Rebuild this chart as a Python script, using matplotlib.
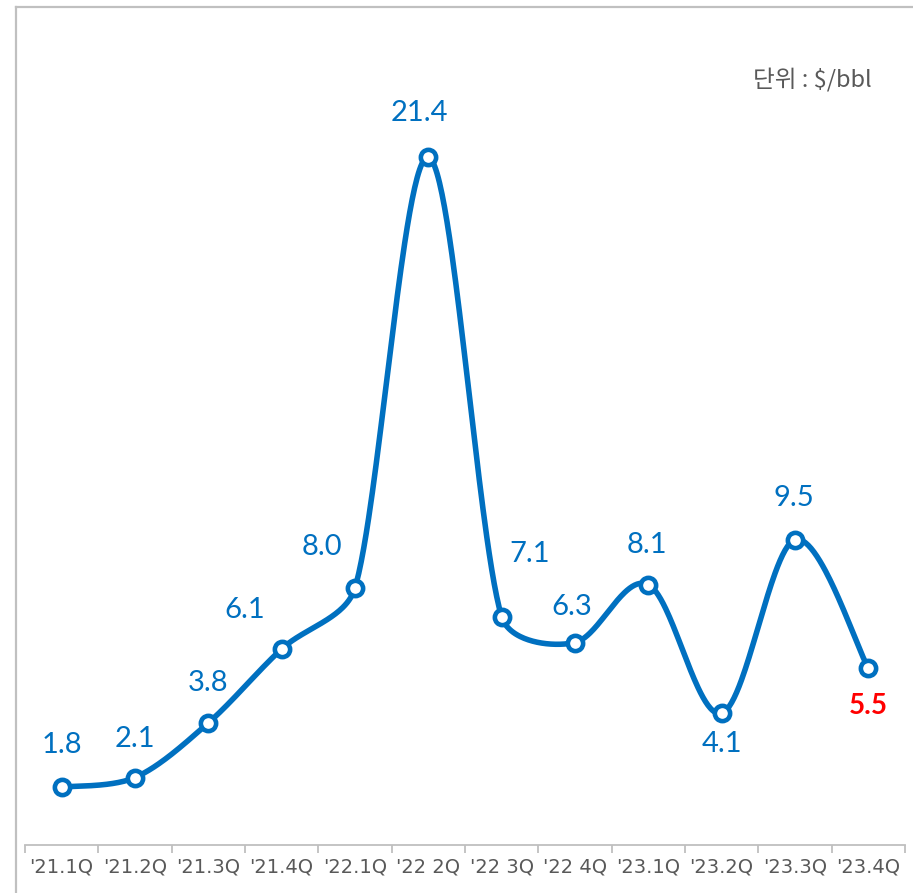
import numpy as np
import matplotlib
matplotlib.use('Agg')
import matplotlib.pyplot as plt
from matplotlib.lines import Line2D

# Quarterly values ($/bbl)
quarters = ["'21.1Q", "'21.2Q", "'21.3Q", "'21.4Q", "'22.1Q", "'22 2Q",
            "'22 3Q", "'22 4Q", "'23.1Q", "'23.2Q", "'23.3Q", "'23.4Q"]
values = [1.8, 2.1, 3.8, 6.1, 8.0, 21.4, 7.1, 6.3, 8.1, 4.1, 9.5, 5.5]
value_labels = ["1.8", "2.1", "3.8", "6.1", "8.0", "21.4",
                "7.1", "6.3", "8.1", "4.1", "9.5", "5.5"]

# label offsets from the point in pixels (dx, dy up)
label_offsets = [(0, 42), (0, 39), (0, 40), (-37, 39), (-33, 41), (-9, 44),
                 (28, 63), (-3, 36), (-1, 40), (0, -31), (-1, 42), (0, -38)]

blue = '#0070C0'
grey_txt = '#595959'
grey_line = '#BFBFBF'

fig = plt.figure(figsize=(9.13, 8.93), dpi=100)
ax = fig.add_axes([25 / 913, 48 / 893, 880 / 913, 803.5 / 893])
ax.set_xlim(-0.5, len(values) - 0.5)
ax.set_ylim(0, 25)

x = np.arange(len(values))
y = np.array(values)

# Excel-like smoothed line, built in display space
fig.canvas.draw()
P = ax.transData.transform(np.column_stack([x, y]))
n = len(P)
curve = []
for i in range(n - 1):
    p0 = P[i - 1] if i > 0 else P[i]
    p1 = P[i]
    p2 = P[i + 1]
    p3 = P[i + 2] if i + 2 < n else P[i + 1]
    seg = np.linalg.norm(p2 - p1)
    t1 = (p2 - p0) / 6
    t2 = (p3 - p1) / 6
    if np.linalg.norm(t1) > seg / 3:
        t1 = t1 / np.linalg.norm(t1) * seg / 3
    if np.linalg.norm(t2) > seg / 3:
        t2 = t2 / np.linalg.norm(t2) * seg / 3
    c1 = p1 + t1
    c2 = p2 - t2
    t = np.linspace(0, 1, 60)[:, None]
    b = (1 - t) ** 3 * p1 + 3 * (1 - t) ** 2 * t * c1 + 3 * (1 - t) * t ** 2 * c2 + t ** 3 * p2
    curve.append(b if i == 0 else b[1:])
curve = ax.transData.inverted().transform(np.vstack(curve))

ax.plot(curve[:, 0], curve[:, 1], color=blue, lw=4.0, solid_capstyle='round', zorder=2)
ax.plot(x, y, 'o', ms=11, mfc='white', mec=blue, mew=3.3, zorder=3)

for i, (v, lab) in enumerate(zip(values, value_labels)):
    dx, dy = label_offsets[i]
    last = i == len(values) - 1
    ax.annotate(lab, (i, v), xytext=(dx * 0.72, dy * 0.72), textcoords='offset points',
                ha='center', va='center', fontsize=21 if not last else 20,
                color='#FF0000' if last else blue,
                fontweight='bold' if last else 'normal',
                family=['Lato', 'DejaVu Sans'])

# axes styling
for s in ['top', 'right', 'left']:
    ax.spines[s].set_visible(False)
ax.spines['bottom'].set_color(grey_line)
ax.spines['bottom'].set_linewidth(1.3)
ax.set_yticks([])
ax.set_xticks(x)
ax.set_xticklabels(quarters, fontsize=14, color=grey_txt,
                   family=['Liberation Sans Narrow', 'DejaVu Sans'])
ax.tick_params(axis='x', which='major', length=0, pad=9)
ax.set_xticks(np.arange(-0.5, len(values), 1.0), minor=True)
ax.tick_params(axis='x', which='minor', length=6, color=grey_line, width=1.3)

fig.text(872 / 913, 1 - 80 / 893, '단위 : $/bbl', ha='right', va='center',
         fontsize=17, color=grey_txt, family=['Noto Sans CJK KR', 'DejaVu Sans'])

# frame edges
fig.add_artist(Line2D([16 / 913, 16 / 913], [0, 1 - 7 / 893], color='#C0C0C0', lw=1.6))
fig.add_artist(Line2D([16 / 913, 1], [1 - 7 / 893, 1 - 7 / 893], color='#C0C0C0', lw=1.6))

fig.savefig('out.png', dpi=100)
